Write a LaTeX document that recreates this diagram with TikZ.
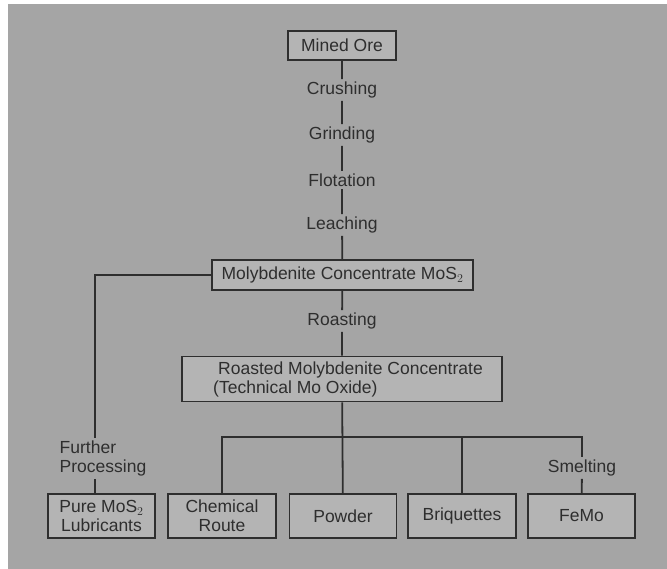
\documentclass[tikz,border=0pt]{standalone}
\usepackage{fontspec}
\setmainfont{Liberation Sans}
\usepackage{tikz}
\usepackage{xcolor}
\definecolor{bggray}{HTML}{A5A5A5}
\definecolor{boxgray}{HTML}{B4B4B4}
\definecolor{inkgray}{HTML}{2E2E2E}

\begin{document}
\begin{tikzpicture}[x=1pt,y=-1pt,
        font=\fontsize{17.5}{19}\selectfont,
        every node/.style={text=inkgray},
        box/.style={draw=inkgray,line width=1.8pt,fill=boxgray,minimum height=44pt,inner sep=2pt,align=center},
        stage/.style={inner sep=2.5pt},
        link/.style={draw=inkgray,line width=1.8pt}]
        \useasboundingbox (0,0) rectangle (667,569);
        \fill[white] (0,0) rectangle (667,569);
        \fill[bggray] (8,4) rectangle (667,569);
        % main chain
        \node[box,minimum width=108pt,minimum height=29pt] (mined) at (342,45.5) {Mined Ore};
        \node[stage] (crush) at (342,90) {Crushing};
        \node[stage] (grind) at (342,135) {Grinding};
        \node[stage] (flot) at (342,180) {Flotation};
        \node[stage] (leach) at (342,225) {Leaching};
        \node[box,minimum width=261pt,minimum height=30pt] (moly) at (342.5,275) {Molybdenite Concentrate MoS$_2$};
        \node[stage] (roast) at (342,321) {Roasting};
        \node[box,minimum width=320pt,minimum height=45pt,align=left] (roasted) at (342,379)
                {\hspace{17pt}Roasted Molybdenite Concentrate\\\hspace{12pt}(Technical Mo Oxide)};
        \draw[link] (mined) -- (crush) (crush) -- (grind) (grind) -- (flot)
                (flot) -- (leach) (leach) -- (moly) (moly) -- (roast) (roast) -- (roasted);
        % products
        \node[box,minimum width=107pt] (pure) at (101.5,516) {Pure MoS$_2$\\Lubricants};
        \node[box,minimum width=108pt] (chem) at (222,516) {Chemical\\Route};
        \node[box,minimum width=107pt] (powder) at (343,516) {Powder};
        \node[box,minimum width=108pt] (brique) at (462,516) {Briquettes};
        \node[box,minimum width=107pt] (femo) at (581.5,516) {FeMo};
        \node[stage] (smelt) at (582,468) {Smelting};
        \node[stage,align=left,anchor=west] (further) at (57,458.5) {Further\\Processing};
        \coordinate (lp) at (95,0);
        \coordinate (bus) at (343,437);
        \draw[link] (roasted) -- (powder);
        \draw[link] (chem) |- (bus) -| (smelt);
        \draw[link] (brique) -- (brique |- bus);
        \draw[link] (smelt) -- (femo);
        \draw[link] (moly.west) -| (further.north -| lp);
        \draw[link] (further.south -| lp) -- (pure.north -| lp);
\end{tikzpicture}
\end{document}
